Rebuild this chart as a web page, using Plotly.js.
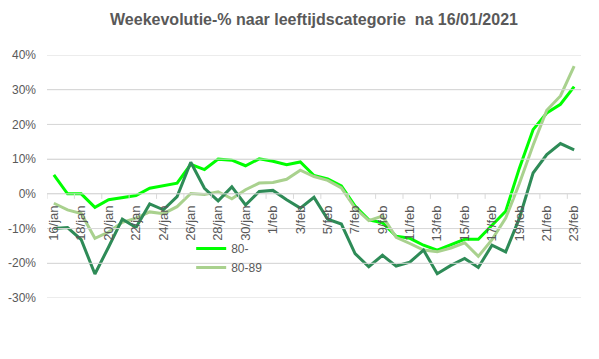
<!DOCTYPE html>
<html>
<head>
<meta charset="utf-8">
<script src="https://cdn.plot.ly/plotly-3.0.1.min.js"></script>
<style>html,body{margin:0;padding:0;background:#fff;}#chart{width:599px;height:359px;}</style>
</head>
<body>
<div id="chart"></div>
<script>
// categories (days)
const dates = ["16/jan","17/jan","18/jan","19/jan","20/jan","21/jan","22/jan","23/jan","24/jan","25/jan",
  "26/jan","27/jan","28/jan","29/jan","30/jan","31/jan","1/feb","2/feb","3/feb","4/feb",
  "5/feb","6/feb","7/feb","8/feb","9/feb","10/feb","11/feb","12/feb","13/feb","14/feb",
  "15/feb","16/feb","17/feb","18/feb","19/feb","20/feb","21/feb","22/feb","23/feb"];

// series values (week evolution in %)
const v80 = [5.5,0,0,-3.9,-1.7,-1.1,-0.5,1.6,2.3,3.1,
  8.5,7.0,10.0,9.7,8.1,10.1,9.4,8.4,9.2,5.3,
  4.3,2.3,-3.5,-7.5,-8.3,-12.2,-12.8,-14.8,-16.2,-14.7,
  -13.1,-13.1,-9.2,-5.0,7.4,18.5,23.3,25.8,30.9];
const v8089 = [-2.7,-4.6,-5.7,-12.8,-11.0,-8.2,-7.0,-5.2,-5.7,-3.7,
  0.1,-0.2,0.6,-1.4,1.2,3.1,3.3,4.2,6.8,5.0,
  3.9,1.7,-4.1,-7.7,-6.4,-12.5,-14.3,-16.2,-16.7,-15.6,
  -14.1,-18.0,-13.2,-7.0,3.0,14.0,24.1,28.2,36.8];
const v90 = [-10.0,-9.7,-13.2,-23.1,-15.3,-7.3,-9.7,-2.9,-4.6,-0.8,
  9.1,1.6,-2.0,2.0,-3.2,0.7,1.0,-1.7,-4.1,-1.0,
  -7.3,-8.7,-17.2,-21.0,-17.7,-20.8,-19.7,-16.2,-23.0,-20.6,
  -18.6,-21.2,-14.8,-16.7,-7.0,6.0,11.3,14.5,12.7];

const seriesNames = ["80-", "80-89", "90+"];
const yTickVals = [-30,-20,-10,0,10,20,30,40];
const yTickText = yTickVals.map(v => v + '%');

const gray = '#595959';
const grid = '#d9d9d9';
const yMin = -30, yMax = 40;
const zeroPos = (0 - yMin) / (yMax - yMin);
const n = dates.length;
const plotH = 359 - 55 - 61;
const tickLenY = 5 * (yMax - yMin) / plotH;

// gridlines (one broken line through all tick values) on a hidden linear overlay axis
const gx = [], gy = [];
yTickVals.forEach(v => { gx.push(-0.5, n - 0.5, null); gy.push(v, v, null); });
// category tick marks at every second category boundary
const tx = [], ty = [];
for (let i = 0; i < n; i += 2) { tx.push(i - 0.5, i - 0.5, null); ty.push(0, -tickLenY, null); }

const traces = [
  {x: gx, y: gy, xaxis: 'x2', type: 'scatter', mode: 'lines', showlegend: false, hoverinfo: 'skip',
   line: {color: grid, width: 1}},
  {x: tx, y: ty, xaxis: 'x2', type: 'scatter', mode: 'lines', showlegend: false, hoverinfo: 'skip',
   line: {color: grid, width: 1}},
  {x: dates, y: v80, name: seriesNames[0], type: 'scatter', mode: 'lines',
   line: {color: '#00ff00', width: 3}},
  {x: dates, y: v8089, name: seriesNames[1], type: 'scatter', mode: 'lines',
   line: {color: '#a9d18e', width: 3}},
  {x: dates, y: v90, name: seriesNames[2], type: 'scatter', mode: 'lines',
   line: {color: '#2e8b57', width: 3}, showlegend: false}
];

const layout = {
  width: 599, height: 359,
  margin: {l: 47, r: 18, t: 55, b: 61},
  paper_bgcolor: '#fff', plot_bgcolor: '#fff',
  font: {family: 'Liberation Sans, Arial, sans-serif', size: 12, color: gray},
  title: {text: 'Weekevolutie-% naar leeftijdscategorie&nbsp; na 16/01/2021',
    font: {family: 'Liberation Sans, Arial, sans-serif', size: 16, color: gray, weight: 'bold'},
    x: 0.5, xanchor: 'center', xref: 'paper', y: 1 - 19/359, yanchor: 'middle', yref: 'container'},
  xaxis: {type: 'category', categoryorder: 'array', categoryarray: dates,
    range: [-0.5, n - 0.5], tickmode: 'linear', tick0: 0, dtick: 2,
    ticks: '', tickangle: -90, showgrid: false, showline: false,
    anchor: 'free', position: zeroPos, zeroline: false, ticklabelstandoff: 8,
    tickfont: {size: 13, color: gray}},
  xaxis2: {type: 'linear', overlaying: 'x', range: [-0.5, n - 0.5], visible: false,
    showgrid: false, zeroline: false},
  yaxis: {range: [yMin, yMax], tickmode: 'array', tickvals: yTickVals, ticktext: yTickText,
    showgrid: true, gridcolor: grid, gridwidth: 1, zeroline: false, showline: false,
    ticks: '', ticklabelstandoff: 10, tickfont: {size: 12, color: gray}},
  legend: {x: 0.27, y: 0.263, xanchor: 'left', yanchor: 'top', bgcolor: 'rgba(0,0,0,0)',
    font: {size: 12, color: gray}, tracegroupgap: 0},
  showlegend: true
};

Plotly.newPlot('chart', traces, layout, {displayModeBar: false});
</script>
</body>
</html>
